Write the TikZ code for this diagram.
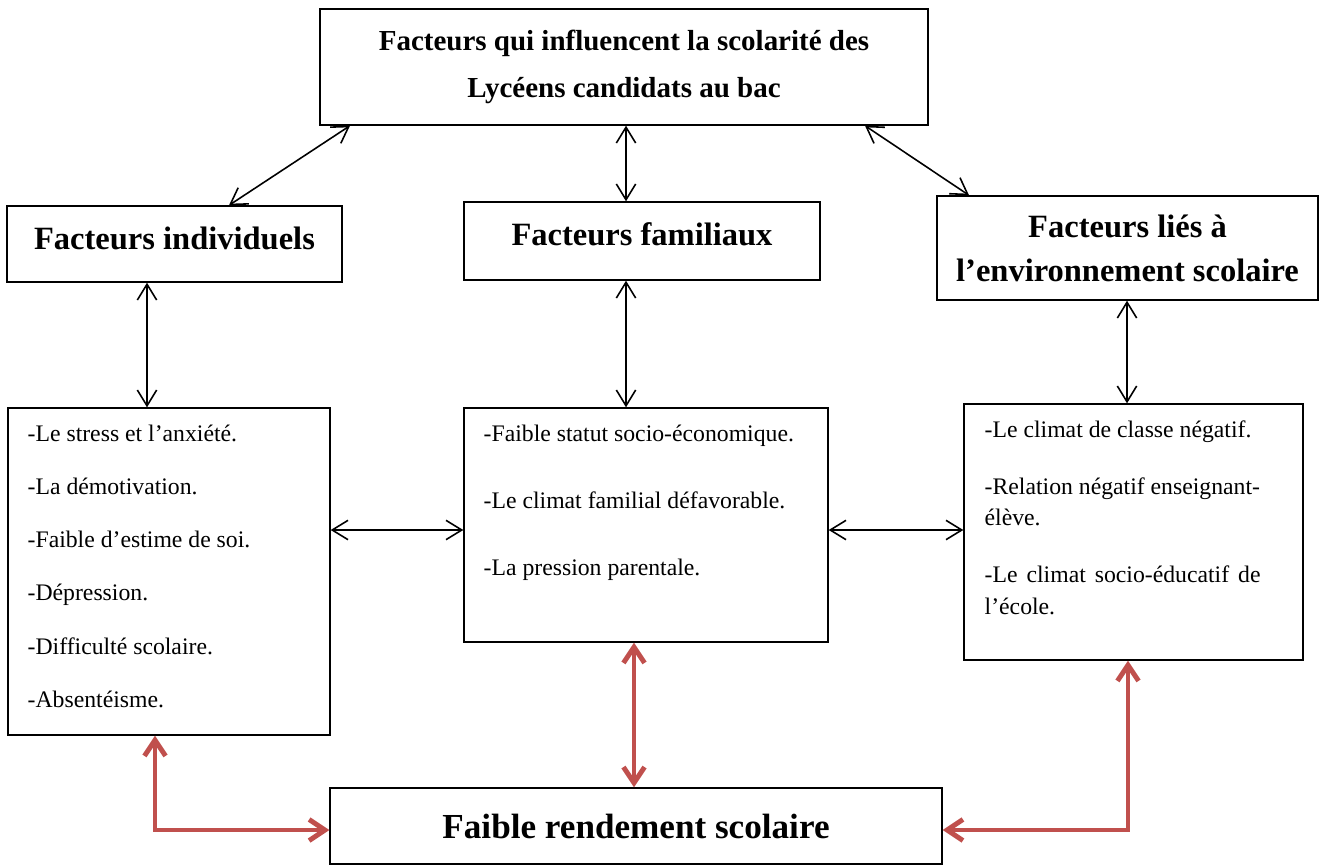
\documentclass[tikz,border=0pt]{standalone}
\usepackage{fontspec}
\setmainfont{Liberation Serif}
\usetikzlibrary{positioning,arrows.meta}
\definecolor{flowred}{HTML}{C0504D}

\begin{document}
\begin{tikzpicture}[
  x=0.02cm, y=-0.02cm,
  box/.style={draw, line width=0.8pt, inner sep=0pt},
  title/.style={box, align=center, font=\bfseries\fontsize{18.5}{25}\selectfont},
  listtxt/.style={inner sep=0pt, align=left},
  link/.style={{Straight Barb[length=9pt,width=11pt]}-{Straight Barb[length=9pt,width=11pt]}, line width=0.9pt},
  flow/.style={{Straight Barb[length=9pt,width=12pt]}-{Straight Barb[length=9pt,width=12pt]}, line width=2.8pt, flowred}
]
  \useasboundingbox (0,0) rectangle (1324,866);

  % factor boxes
  \node[title, minimum width=12.16cm, minimum height=2.32cm,
        font=\bfseries\fontsize{16.5}{26.7}\selectfont] (top) at (624,67)
        {Facteurs qui influencent la scolarité des\\Lycéens candidats au bac};
  \node[title, minimum width=6.7cm,  minimum height=1.52cm, text depth=7pt] (ind) at (174.5,244) {Facteurs individuels};
  \node[title, minimum width=7.12cm, minimum height=1.56cm, text depth=8pt] (fam) at (642,241)   {Facteurs familiaux};
  \node[title, minimum width=7.62cm, minimum height=2.08cm] (env) at (1127.5,248) {Facteurs liés à\\l’environnement scolaire};

  % list boxes
  \node[box, minimum width=6.44cm, minimum height=6.54cm] (indlist) at (169,571.5) {};
  \node[box, minimum width=7.28cm, minimum height=4.68cm] (famlist) at (646,525)   {};
  \node[box, minimum width=6.78cm, minimum height=5.12cm] (envlist) at (1133.5,532) {};

  \node[listtxt, font=\fontsize{13.5}{30.3}\selectfont, below right=0.34cm and 0.4cm of indlist.north west] (indtxt)
    {-Le stress et l’anxiété.\\-La démotivation.\\-Faible d’estime de soi.\\-Dépression.\\-Difficulté scolaire.\\-Absentéisme.};
  \node[listtxt, font=\fontsize{13.5}{38.3}\selectfont, below right=0.34cm and 0.4cm of famlist.north west] (famtxt)
    {-Faible statut socio-économique.\\-Le climat familial défavorable.\\-La pression parentale.};
  \node[listtxt, font=\fontsize{13.5}{18}\selectfont, below right=0.34cm and 0.42cm of envlist.north west] (envtxt)
    {-Le climat de classe négatif.\\[14.3pt]-Relation négatif enseignant-\\élève.\\[14.3pt]\makebox[157pt][s]{-Le climat socio-éducatif de}\\l’école.};

  \node[title, minimum width=12.24cm, minimum height=1.52cm,
        font=\bfseries\fontsize{20}{24}\selectfont] (res) at (636,826) {Faible rendement scolaire};

  % black links
  \draw[link] (ind.north -| 229,0) -- (top.south -| 350,0);
  \draw[link] (top.south -| 626,0) -- (fam.north -| 626,0);
  \draw[link] (top.south -| 865,0) -- (env.north -| 969,0);
  \draw[link] (ind.south -| 147,0) -- (indlist.north -| 147,0);
  \draw[link] (fam.south -| 626,0) -- (famlist.north -| 626,0);
  \draw[link] (env.south -| 1127,0) -- (envlist.north -| 1127,0);
  \draw[link] (indlist.east |- 0,530) -- (famlist.west |- 0,530);
  \draw[link] (famlist.east |- 0,530) -- (envlist.west |- 0,530);

  % red links to the outcome
  \draw[flow] (indlist.south -| 155,0) |- (res.west |- 0,830);
  \draw[flow] (famlist.south -| 634,0) -- (res.north -| 634,0);
  \draw[flow] (envlist.south -| 1128,0) |- (res.east |- 0,830);
\end{tikzpicture}
\end{document}
